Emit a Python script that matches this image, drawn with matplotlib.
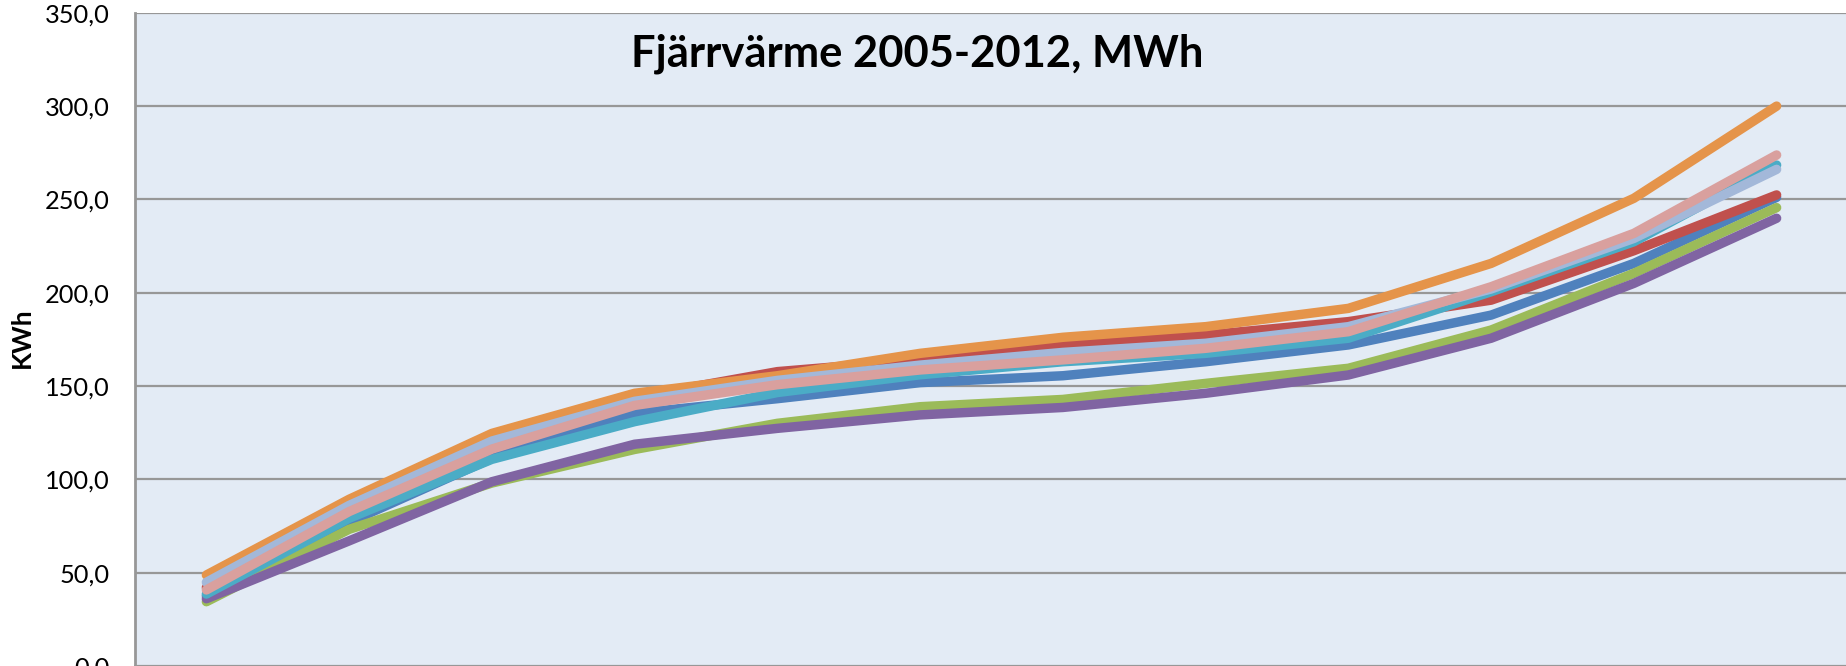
import matplotlib
matplotlib.use("Agg")
import matplotlib.pyplot as plt
from matplotlib.ticker import FuncFormatter

# Categories (months, cumulative) – axis labels are cropped off in the reference
months = ["jan", "feb", "mar", "apr", "maj", "jun", "jul", "aug", "sep", "okt", "nov", "dec"]

# Series values (MWh, cumulative)
y2005 = [37.5, 77.0, 111.2, 135.4, 143.2, 151.8, 155.5, 163.0, 172.0, 188.0, 215.7, 251.1]   # blue
y2006 = [42.0, 85.0, 119.0, 144.0, 157.7, 164.0, 171.5, 177.3, 184.5, 196.0, 222.5, 252.4]   # red
y2007 = [34.4, 73.2, 98.0, 116.0, 130.0, 138.9, 142.8, 151.4, 159.5, 180.0, 210.4, 245.6]    # green
y2008 = [36.0, 67.0, 98.7, 118.8, 127.3, 134.5, 138.5, 146.1, 155.9, 175.6, 205.0, 239.9]    # purple
y2009 = [38.5, 79.1, 110.7, 130.9, 146.5, 156.0, 163.0, 167.5, 175.6, 200.5, 227.3, 268.4]   # aqua
y2010 = [48.7, 89.3, 124.6, 146.1, 155.5, 167.5, 176.1, 181.8, 191.6, 215.7, 250.6, 300.0]   # orange
y2011 = [44.8, 86.0, 120.5, 141.8, 153.0, 161.2, 168.0, 172.9, 181.8, 202.0, 229.1, 266.1]   # light blue
y2012 = [40.7, 82.7, 116.2, 139.6, 150.7, 158.6, 164.0, 170.2, 179.1, 203.2, 231.8, 273.8]   # pink

series_names = ["2005", "2006", "2007", "2008", "2009", "2010", "2011", "2012"]
series_values = [y2005, y2006, y2007, y2008, y2009, y2010, y2011, y2012]
colors = ["#4F81BD", "#C0504D", "#9BBB59", "#8064A2", "#4BACC6", "#E5944A", "#A3B8D9", "#D9A09E"]

yticks = [0, 50, 100, 150, 200, 250, 300, 350]

W, H = 1846, 666
fig = plt.figure(figsize=(W / 100, H / 100), dpi=100)
fig.patch.set_facecolor("white")

left = 135 / W
bottom = 0.1 / H
top_px = 12.8
ax = fig.add_axes([left, bottom, (1848 - 135) / W, (666 - 0.1 - top_px) / H])
ax.set_facecolor("#E3EBF5")

x = list(range(len(months)))
for name, vals, c in zip(series_names, series_values, colors):
    ax.plot(x, vals, color=c, lw=6.8, solid_capstyle="round", solid_joinstyle="round",
            label=name, zorder=3)

ax.set_xlim(-0.5, len(months) - 0.5)
ax.set_ylim(0, 350)
ax.set_yticks(yticks)
ax.yaxis.set_major_formatter(FuncFormatter(lambda v, p: f"{v:.1f}".replace(".", ",")))
ax.set_xticks(x)
ax.set_xticklabels(months)
ax.grid(axis="y", color="#979797", lw=1.6, zorder=1)
ax.set_axisbelow(True)
for s in ["top", "right"]:
    ax.spines[s].set_visible(False)
for s in ["left", "bottom"]:
    ax.spines[s].set_color("#979797")
    ax.spines[s].set_linewidth(2.0)
ax.tick_params(axis="y", length=0, pad=18, labelsize=18.3, labelcolor="black")
ax.tick_params(axis="x", length=0, labelbottom=False)
for lab in ax.get_yticklabels():
    lab.set_fontfamily(["Lato", "DejaVu Sans"])

fig.text(22 / W, 1 - 338 / H, "KWh", rotation=90, ha="center", va="center",
         fontsize=19, fontweight="bold", family=["Lato", "DejaVu Sans"])

fig.text(917 / W, 1 - 66.7 / H, "Fjärrvärme 2005-2012, MWh", ha="center", va="baseline",
         fontsize=31.3, fontweight="bold", family=["Lato", "DejaVu Sans"])

fig.savefig("out.png", dpi=100, facecolor="white")
